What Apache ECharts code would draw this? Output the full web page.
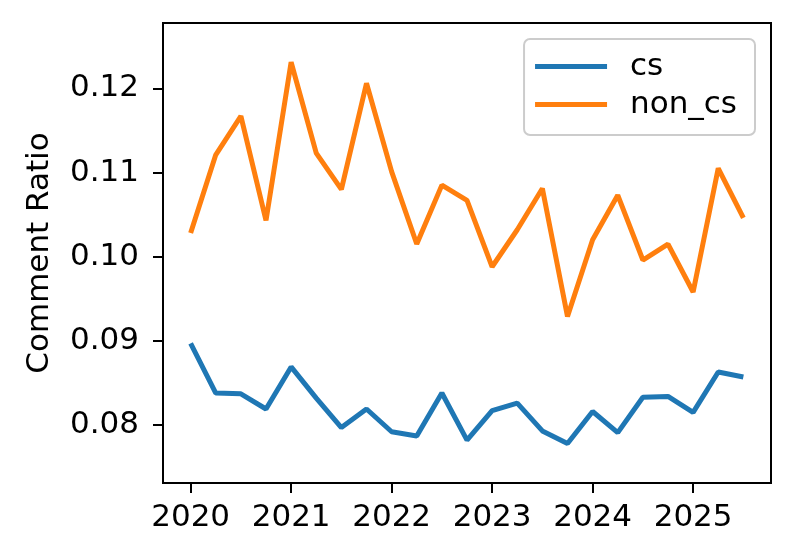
<!DOCTYPE html>
<html>
<head>
<meta charset="utf-8">
<script src="https://cdn.jsdelivr.net/npm/echarts@6/dist/echarts.min.js"></script>
<style>
html,body{margin:0;padding:0;background:#fff;}
#chart{width:794px;height:560px;}
</style>
</head>
<body>
<div id="chart"></div>
<script>
var quarters = [2020, 2020.25, 2020.5, 2020.75, 2021, 2021.25, 2021.5, 2021.75,
                2022, 2022.25, 2022.5, 2022.75, 2023, 2023.25, 2023.5, 2023.75,
                2024, 2024.25, 2024.5, 2024.75, 2025, 2025.25, 2025.5];
var csValues = [0.0897, 0.0838, 0.0837, 0.0819, 0.0869, 0.0832, 0.0797, 0.0819,
                0.0792, 0.0787, 0.0838, 0.0782, 0.0817, 0.0826, 0.0793, 0.0778,
                0.0816, 0.0791, 0.0833, 0.0834, 0.0815, 0.0863, 0.0857];
var nonCsValues = [0.1028, 0.1121, 0.1167, 0.1043, 0.1231, 0.1123, 0.1080, 0.1206,
                   0.1101, 0.1015, 0.1085, 0.1067, 0.0988, 0.1032, 0.1081, 0.0929,
                   0.1020, 0.1073, 0.0996, 0.1015, 0.0958, 0.1105, 0.1046];
var xTicks = [2020, 2021, 2022, 2023, 2024, 2025];
var yTicks = [0.08, 0.09, 0.10, 0.11, 0.12];
var seriesNames = ['cs', 'non_cs'];

function pairs(xs, ys) { return xs.map(function (x, i) { return [x, ys[i]]; }); }

var font = 'DejaVu Sans';
var fs = 31;
var chart = echarts.init(document.getElementById('chart'), null, {renderer: 'canvas'});
chart.setOption({
  animation: false,
  backgroundColor: '#fff',
  textStyle: {fontFamily: font},
  grid: {left: 163, right: 23, top: 23, bottom: 77, show: true, borderColor: '#000', borderWidth: 2, backgroundColor: 'transparent'},
  legend: {
    right: 39, top: 39,
    orient: 'vertical',
    icon: 'rect',
    itemWidth: 72, itemHeight: 5,
    itemGap: 7,
    padding: [12, 18, 15, 11],
    borderColor: '#cccccc', borderWidth: 2, borderRadius: 6,
    backgroundColor: '#fff',
    textStyle: {fontFamily: font, fontSize: fs, color: '#000', lineHeight: 31, padding: [0, 0, 0, 18]},
    data: seriesNames
  },
  xAxis: {
    type: 'value', min: 2019.725, max: 2025.775,
    axisLine: {show: true, lineStyle: {color: '#000', width: 2}},
    axisTick: {show: true, inside: false, length: 10, lineStyle: {color: '#000', width: 2}, customValues: xTicks},
    axisLabel: {fontFamily: font, fontSize: fs, color: '#000', margin: 19, customValues: xTicks, formatter: function (v) { return String(Math.round(v)); }},
    splitLine: {show: false}
  },
  yAxis: {
    type: 'value', min: 0.07311, max: 0.12776,
    name: 'Comment Ratio', nameLocation: 'middle', nameGap: 108, nameRotate: 90,
    nameTextStyle: {fontFamily: font, fontSize: fs, color: '#000'},
    axisLine: {show: true, lineStyle: {color: '#000', width: 2}},
    axisTick: {show: true, inside: false, length: 10, lineStyle: {color: '#000', width: 2}, customValues: yTicks},
    axisLabel: {fontFamily: font, fontSize: fs, color: '#000', margin: 24, customValues: yTicks, formatter: function (v) { return v.toFixed(2); }},
    splitLine: {show: false}
  },
  series: [
    {name: seriesNames[0], type: 'line', data: pairs(quarters, csValues), showSymbol: false, symbol: 'none',
     lineStyle: {color: '#1f77b4', width: 5}, itemStyle: {color: '#1f77b4'}},
    {name: seriesNames[1], type: 'line', data: pairs(quarters, nonCsValues), showSymbol: false, symbol: 'none',
     lineStyle: {color: '#ff7f0e', width: 5}, itemStyle: {color: '#ff7f0e'}}
  ]
});
</script>
</body>
</html>
